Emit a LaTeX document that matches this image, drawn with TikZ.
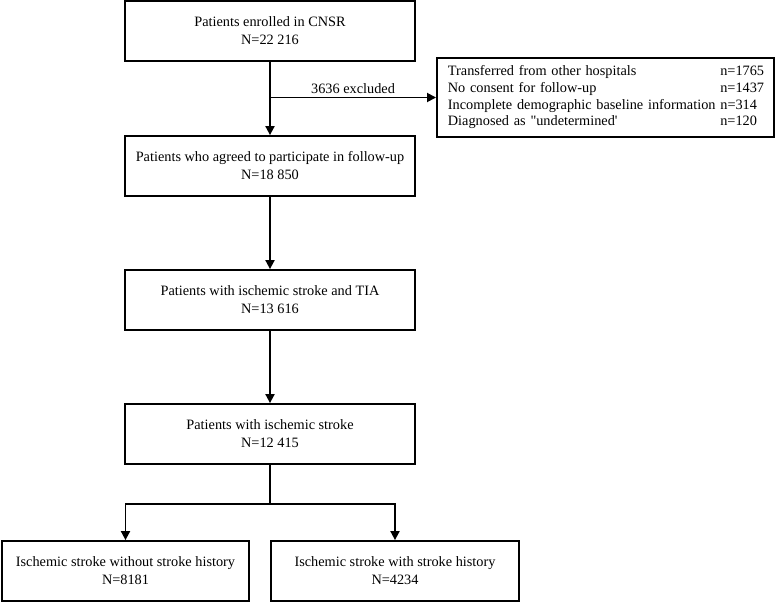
\documentclass[tikz,border=0pt]{standalone}
\usepackage{fontspec}
\setmainfont{Liberation Serif}[Ligatures=TeXOff]
\usetikzlibrary{arrows.meta}
\usetikzlibrary{positioning}
\usetikzlibrary{calc}

\begin{document}
\begin{tikzpicture}[
  x=1pt,y=-1pt,
  box/.style={draw,line width=1.8pt,minimum width=290pt,minimum height=60pt,inner sep=0,align=center,font=\fontsize{14.3}{18}\selectfont},
  small box/.style={box,minimum width=247pt},
  wide box/.style={draw,line width=1.8pt,text width=315pt,minimum height=79pt,inner xsep=11pt,inner ysep=0,align=left,font=\fontsize{14.3}{16.7}\selectfont},
  link/.style={line width=1.8pt},
  arrow/.style={link,-{Triangle[length=9pt,width=9pt]}},
]
\useasboundingbox (0,0) rectangle (775,602);

\node[box] (enrolled) at (270,31) {Patients enrolled in CNSR\\N=22 216};
\node[box] (agreed) at (270,166) {Patients who agreed to participate in follow-up\\N=18 850};
\node[box] (tia) at (270,300) {Patients with ischemic stroke and TIA\\N=13 616};
\node[box] (stroke) at (270,434) {Patients with ischemic stroke\\N=12 415};
\node[small box] (nohist) at (125.5,571) {Ischemic stroke without stroke history\\N=8181};
\node[small box,minimum width=248pt] (hist) at (395,571) {Ischemic stroke with stroke history\\N=4234};
\node[wide box,anchor=west] (excluded) at (436,97.5) {%
  \begin{tabular}{@{}l@{ }l@{}}
  Transferred from other hospitals & n=1765\\
  No consent for follow-up & n=1437\\
  Incomplete demographic baseline information & n=314\\
  Diagnosed as "undetermined' & n=120
  \end{tabular}};

\coordinate (split) at (enrolled.south |- excluded.west);
\coordinate (fork) at ($(stroke.south)+(0,39)$);

\draw[arrow] (enrolled) -- (agreed);
\draw[arrow] (split) -- node[above,inner sep=3pt,font=\fontsize{14.3}{18}\selectfont] (exclnote) {3636 excluded} (excluded);
\draw[arrow] (agreed) -- (tia);
\draw[arrow] (tia) -- (stroke);
\draw[link] (stroke) -- (fork);
\draw[arrow] (fork) -| (nohist);
\draw[arrow] (fork) -| (hist);
\end{tikzpicture}
\end{document}
